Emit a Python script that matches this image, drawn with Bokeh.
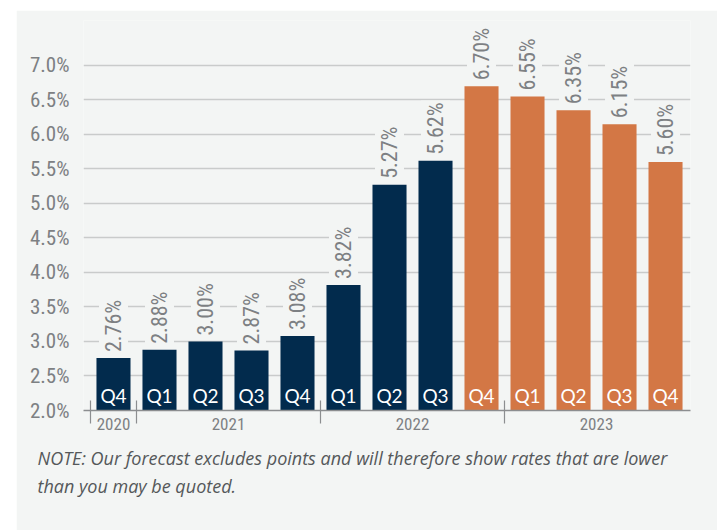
import numpy as np
from bokeh.plotting import figure
from bokeh.models import ColumnDataSource, Range1d, FixedTicker, PrintfTickFormatter, LinearAxis, Title
from bokeh.core.properties import value
from bokeh.embed import file_html
from bokeh.resources import INLINE

quarters = ["Q4", "Q1", "Q2", "Q3", "Q4", "Q1", "Q2", "Q3", "Q4", "Q1", "Q2", "Q3", "Q4"]
rates = [2.76, 2.88, 3.00, 2.87, 3.08, 3.82, 5.27, 5.62, 6.70, 6.55, 6.35, 6.15, 5.60]
is_forecast = [False] * 8 + [True] * 5
years = ["2020", "2021", "2022", "2023"]
year_centers = [0, 2.5, 6.5, 10.5]
year_dividers = [-0.5, 0.5, 4.5, 8.5]
y_ticks = [2.0, 2.5, 3.0, 3.5, 4.0, 4.5, 5.0, 5.5, 6.0, 6.5, 7.0]
note_lines = ["NOTE: Our forecast excludes points and will therefore show rates that are lower",
              "than you may be quoted."]

NAVY = "#022b4d"
ORANGE = "#d37745"
PANEL = "#f3f5f4"
GREY = "#7d8083"
COND = "Roboto Condensed"

xs = list(range(len(rates)))
src = ColumnDataSource(dict(
    x=xs, top=rates, q=quarters,
    color=[ORANGE if f else NAVY for f in is_forecast],
    lab=["%.2f%%" % r for r in rates],
    base=[2.0] * len(rates),
))

p = figure(width=701, height=520, output_backend="svg", toolbar_location=None,
           x_range=Range1d(-0.652, 12.543), y_range=Range1d(2.0, 7.652),
           min_border_left=67, min_border_right=27, min_border_top=10, min_border_bottom=120,
           background_fill_color=PANEL, border_fill_color=PANEL, outline_line_color=None,
           x_axis_location=None)
p.margin = (10, 0, 0, 16)

p.xgrid.visible = False
p.ygrid.ticker = FixedTicker(ticks=y_ticks)
p.ygrid.grid_line_color = "#c9cbcb"
p.ygrid.grid_line_width = 1.3

yax = p.yaxis[0]
yax.ticker = FixedTicker(ticks=y_ticks)
yax.formatter = PrintfTickFormatter(format="%.1f%%")
yax.axis_line_color = None
yax.major_tick_line_color = None
yax.minor_tick_line_color = None
yax.major_label_standoff = 8
yax.major_label_text_font = COND
yax.major_label_text_font_size = "21px"
yax.major_label_text_color = GREY

xax = LinearAxis(ticker=FixedTicker(ticks=year_centers, minor_ticks=year_dividers),
                 major_label_overrides={c: y for c, y in zip(year_centers, years)})
xax.axis_line_color = "#8c8e90"
xax.axis_line_width = 1.3
xax.major_tick_line_color = None
xax.major_tick_out = 0
xax.major_tick_in = 0
xax.minor_tick_line_color = "#8c8e90"
xax.minor_tick_line_width = 1.2
xax.minor_tick_in = 10
xax.minor_tick_out = 13
xax.major_label_standoff = -6
xax.major_label_text_font = COND
xax.major_label_text_font_size = "17px"
xax.major_label_text_color = GREY
p.add_layout(xax, "below")

p.vbar(x="x", top="top", bottom="base", width=0.74, fill_color="color", line_color=None, source=src)

p.text(x="x", y="top", text="lab", source=src, angle=np.pi / 2,
       text_align="left", text_baseline="middle", y_offset=-4,
       text_font=value(COND), text_font_size="22px", text_color=GREY,
       background_fill_color=PANEL, padding=2)

p.text(x="x", y="base", text="q", source=src, text_align="center", text_baseline="middle",
       y_offset=-15, text_font=value("Lato"), text_font_size="19px", text_color="white")

note = Title(text="\n".join(note_lines), align="left", offset=-46, standoff=24,
             text_font="Open Sans", text_font_style="italic", text_font_size="18px",
             text_line_height=1.17, text_color="#55585a")
p.add_layout(note, "below")

open("out.html", "w").write(file_html(p, INLINE))
